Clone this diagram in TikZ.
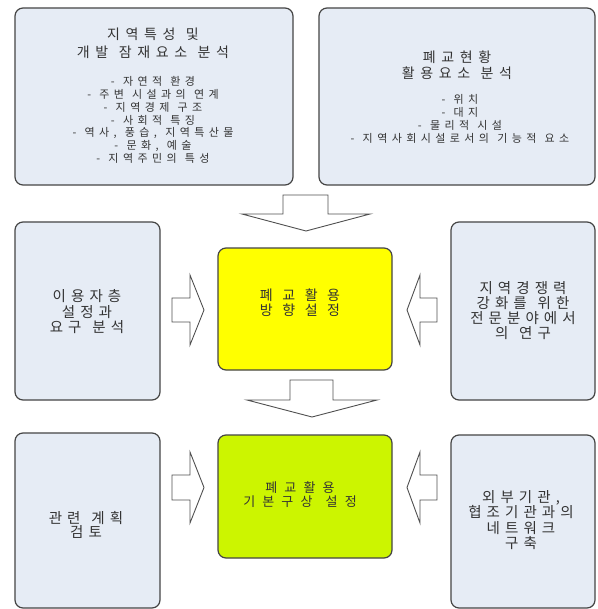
\documentclass[tikz,border=0pt]{standalone}
\usepackage{fontspec}
\newfontfamily\krTitle[LetterSpace=40,WordSpace=1.3]{Noto Sans CJK KR}
\newfontfamily\krBody[LetterSpace=40,WordSpace=1.2]{Noto Sans CJK KR}
\newfontfamily\krSide[LetterSpace=35,WordSpace=1.3]{Noto Sans CJK KR}
\newfontfamily\krY[LetterSpace=68]{Noto Sans CJK KR}
\newfontfamily\krG[LetterSpace=55,WordSpace=1.3]{Noto Sans CJK KR}
\definecolor{boxfill}{HTML}{E6ECF5}
\definecolor{boxline}{HTML}{454545}
\definecolor{txt}{HTML}{333333}
\definecolor{yel}{HTML}{FFFF00}
\definecolor{grn}{HTML}{CCF500}
\definecolor{arrline}{HTML}{505050}
\begin{document}
\begin{tikzpicture}[x=1pt,y=-1pt,
  box/.style={draw=boxline, line width=1.2pt, rounded corners=8pt, fill=boxfill, inner sep=0pt},
  txtlbl/.style n args={3}{text=txt, align=center, inner sep=0pt, font=#1\fontsize{#2}{#3}\selectfont},
  blockarrow/.style={draw=arrline, line width=0.9pt, fill=white, line join=miter}]
\useasboundingbox (0,0) rectangle (597,609);
\fill[white] (0,0) rectangle (597,609);

% boxes
\node[box, minimum width=278pt, minimum height=177pt] (tl) at (154,96.5) {};
\node[box, minimum width=276pt, minimum height=177pt] (tr) at (457,96.5) {};
\node[box, minimum width=145pt, minimum height=178pt] (ml) at (87.5,311) {};
\node[box, fill=yel, minimum width=174pt, minimum height=122pt] (yc) at (305,309) {};
\node[box, minimum width=144pt, minimum height=178pt] (mr) at (523,311) {};
\node[box, minimum width=145pt, minimum height=175pt] (bl) at (87.5,520.5) {};
\node[box, fill=grn, minimum width=174pt, minimum height=123pt] (gc) at (305,496.5) {};
\node[box, minimum width=144pt, minimum height=173pt] (br) at (523,521.5) {};

% texts
\node[txtlbl={\krTitle}{14}{17.5}] (tlt) at (153,43.5) {지역특성 및\\개발 잠재요소 분석};
\node[txtlbl={\krBody}{11}{12.8}] (tlb) at (153,120) {- 자연적 환경\\- 주변 시설과의 연계\\- 지역경제 구조\\- 사회적 특징\\- 역사, 풍습, 지역특산물\\- 문화, 예술\\- 지역주민의 특성};
\node[txtlbl={\krTitle}{14}{16.5}] (trt) at (457,65) {폐교현황\\활용요소 분석};
\node[txtlbl={\krBody}{11}{13}] (trb) at (460,118.5) {- 위치\\- 대지\\- 물리적 시설\\- 지역사회시설로서의 기능적 요소};
\node[txtlbl={\krSide}{14.5}{15.5}] (mlt) at (87,312) {이용자층\\설정과\\요구 분석};
\node[txtlbl={\krY}{14}{15}] (yct) at (300,302.5) {폐교활용\\방향설정};
\node[txtlbl={\krSide}{14.5}{15}] (mrt) at (523,310.5) {지역경쟁력\\강화를 위한\\전문분야에서\\의 연구};
\node[txtlbl={\krSide}{14.5}{14}] (blt) at (86,525) {관련 계획\\검토};
\node[txtlbl={\krG}{13}{14}] (gct) at (300,495) {폐교활용\\기본구상 설정};
\node[txtlbl={\krSide}{14.5}{15.3}] (brt) at (521,520) {외부기관,\\협조기관과의\\네트워크\\구축};

% block arrows (down)
\draw[blockarrow] (283,195) -- (328,195) -- (328,214) -- (370,214) -- (306,231) -- (242,214) -- (283,214) -- cycle;
\draw[blockarrow] (290,380) -- (333,380) -- (333,400) -- (377,400) -- (312,417) -- (247,400) -- (290,400) -- cycle;
% block arrows (right)
\draw[blockarrow] (172,298) -- (190,298) -- (190,275) -- (204,310) -- (190,345) -- (190,322) -- (172,322) -- cycle;
\draw[blockarrow] (172,475) -- (190,475) -- (190,452) -- (204,487.5) -- (190,523) -- (190,500) -- (172,500) -- cycle;
% block arrows (left)
\draw[blockarrow] (437,298) -- (420,298) -- (420,275) -- (407,310) -- (420,345) -- (420,322) -- (437,322) -- cycle;
\draw[blockarrow] (437,475) -- (420,475) -- (420,452) -- (407,487.5) -- (420,523) -- (420,500) -- (437,500) -- cycle;
\end{tikzpicture}
\end{document}
